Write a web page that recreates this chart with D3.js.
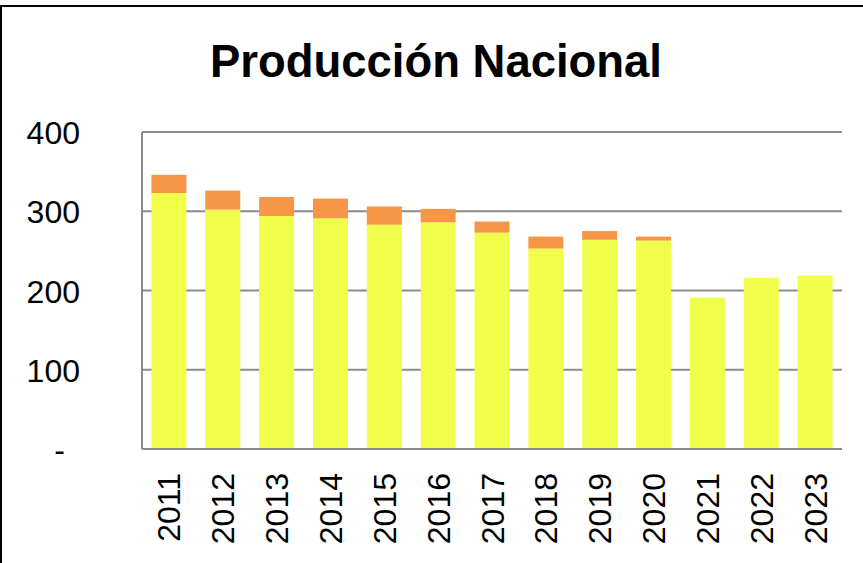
<!DOCTYPE html>
<html>
  <head>
    <meta charset="utf-8">
    <script src="https://d3js.org/d3.v7.min.js"></script>
    <style type="text/css">
body {
  margin: 0;
  background: #fff;
}
svg text {
  font-family: "Liberation Sans", Arial, sans-serif;
}
.grid line {
  stroke: #8c8c8c;
  stroke-width: 2;
}
    </style>
  </head>
  <body>
    <div id="chart"></div>
    <script type="text/javascript">
// values
var years = ["2011", "2012", "2013", "2014", "2015", "2016", "2017",
             "2018", "2019", "2020", "2021", "2022", "2023"];
var base = [323, 302, 294, 291, 283, 286, 273, 253, 264, 263, 191, 216, 219];
var extra = [23, 24, 24, 25, 23, 17, 14, 15, 11, 5, 0, 0, 0];
var yTicks = [0, 100, 200, 300, 400];

var width = 863, height = 563;
var margin = {top: 132, right: 21, bottom: 114, left: 142};

var svg = d3.select("#chart").append("svg")
    .attr("width", width)
    .attr("height", height);

// chart area frame
svg.append("rect")
    .attr("x", 1)
    .attr("y", 6)
    .attr("width", width + 10)
    .attr("height", height + 10)
    .attr("fill", "none")
    .attr("stroke", "#000")
    .attr("stroke-width", 2);

svg.append("text")
    .attr("x", 436)
    .attr("y", 77)
    .attr("text-anchor", "middle")
    .attr("font-weight", "bold")
    .attr("font-size", 46)
    .attr("textLength", 452)
    .attr("lengthAdjust", "spacingAndGlyphs")
    .text("Producción Nacional");

var x = d3.scaleBand()
    .domain(years)
    .range([margin.left, width - margin.right])
    .paddingInner(0.35)
    .paddingOuter(0.175);

var y = d3.scaleLinear()
    .domain([0, 400])
    .range([height - margin.bottom, margin.top]);

// gridlines
svg.append("g")
    .attr("class", "grid")
    .selectAll("line")
    .data(yTicks)
  .enter().append("line")
    .attr("x1", margin.left)
    .attr("x2", width - margin.right)
    .attr("y1", function(d) { return y(d); })
    .attr("y2", function(d) { return y(d); });

svg.append("line")
    .attr("class", "grid")
    .attr("x1", margin.left)
    .attr("x2", margin.left)
    .attr("y1", y(400))
    .attr("y2", y(0))
    .attr("stroke", "#8c8c8c")
    .attr("stroke-width", 2);

var stack = years.map(function(yr, i) {
  return {year: yr, a: base[i], b: extra[i]};
});

svg.append("g").selectAll("rect")
    .data(stack)
  .enter().append("rect")
    .attr("x", function(d) { return x(d.year); })
    .attr("width", x.bandwidth())
    .attr("y", function(d) { return y(d.a); })
    .attr("height", function(d) { return y(0) - y(d.a) - 1; })
    .attr("fill", "#f0ff4a");

svg.append("g").selectAll("rect")
    .data(stack.filter(function(d) { return d.b > 0; }))
  .enter().append("rect")
    .attr("x", function(d) { return x(d.year); })
    .attr("width", x.bandwidth())
    .attr("y", function(d) { return y(d.a + d.b); })
    .attr("height", function(d) { return y(d.a) - y(d.a + d.b); })
    .attr("fill", "#f79646");

// y axis labels
var yAxis = svg.append("g")
    .attr("transform", "translate(80,0)")
    .call(d3.axisLeft(y).tickValues(yTicks).tickSize(0).tickPadding(0)
      .tickFormat(function(d) { return d === 0 ? "-" : d; }));
yAxis.select(".domain").remove();
yAxis.selectAll("text")
    .attr("font-size", 32)
    .attr("font-family", "Liberation Sans, Arial, sans-serif")
    .attr("fill", "#000")
    .attr("dy", "0.36em");
yAxis.selectAll(".tick").filter(function(d) { return d === 0; })
    .select("text")
    .attr("x", -15);

// x axis labels
svg.append("g").selectAll("text")
    .data(years)
  .enter().append("text")
    .attr("transform", function(d) {
      return "translate(" + (x(d) + x.bandwidth() / 2) + ",473) rotate(-90)";
    })
    .attr("text-anchor", "end")
    .attr("dy", "0.36em")
    .attr("font-size", 32)
    .attr("fill", "#000")
    .text(function(d) { return d; });
    </script>
  </body>
</html>
